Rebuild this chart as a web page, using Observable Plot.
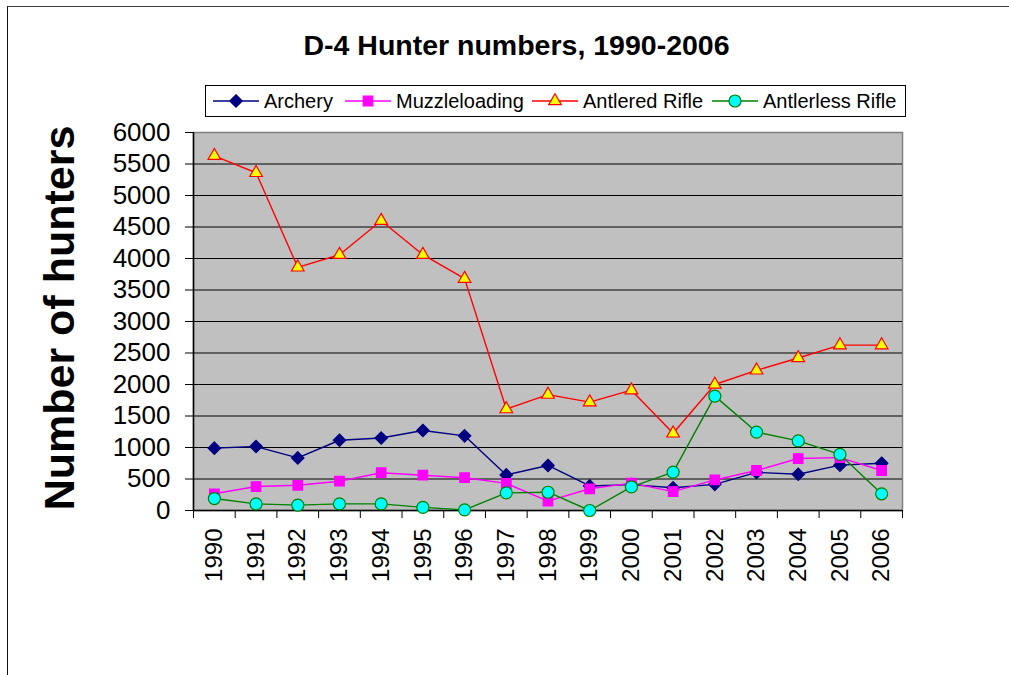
<!DOCTYPE html>
<html>
<head>
<meta charset="utf-8">
<script src="https://cdn.jsdelivr.net/npm/d3@7"></script>
<script src="https://cdn.jsdelivr.net/npm/@observablehq/plot@0.6"></script>
<style>
  html, body { margin: 0; padding: 0; background: #fff; }
  body { width: 1009px; height: 675px; overflow: hidden; font-family: "Liberation Sans", Arial, sans-serif; }
  #wrap { position: relative; width: 1009px; height: 675px; }
  #border { position: absolute; left: 7px; top: 6px; width: 1100px; height: 800px; border-left: 1.5px solid #111; border-top: 1.5px solid #444; }
  #title { position: absolute; left: 0; width: 1033px; top: 28px; text-align: center; font-weight: bold; font-size: 28.5px; line-height: 34px; color: #000; }
  #ylabel { position: absolute; left: 59px; top: 318px; transform: translate(-50%, -50%) rotate(-90deg); white-space: nowrap; font-weight: bold; font-size: 43px; line-height: 46px; color: #000; }
  #legend { position: absolute; left: 205px; top: 85px; width: 701px; height: 32px; border: 1px solid #000; box-sizing: border-box; background: #fff; }
  .item { position: absolute; top: 0; height: 30px; display: flex; align-items: center; font-size: 20px; color: #000; white-space: nowrap; }
  .item svg { margin-right: 5px; }
  #chart { position: absolute; left: 0; top: 0; }
</style>
</head>
<body>
<div id="wrap">
  <div id="border"></div>
  <div id="chart"></div>
  <div id="title">D-4 Hunter numbers, 1990-2006</div>
  <div id="ylabel">Number of hunters</div>
  <div id="legend"></div>
</div>
<script>
// ---- Data ----
const years = [1990, 1991, 1992, 1993, 1994, 1995, 1996, 1997, 1998, 1999, 2000, 2001, 2002, 2003, 2004, 2005, 2006];
const archery       = [990, 1015, 835, 1115, 1150, 1270, 1185, 565, 715, 390, 410, 360, 415, 605, 575, 720, 750];
const muzzleloading = [265, 380, 400, 465, 600, 560, 520, 430, 150, 345, 435, 300, 485, 635, 825, 840, 635];
const antleredRifle = [5630, 5360, 3860, 4060, 4600, 4060, 3680, 1610, 1840, 1720, 1910, 1225, 2000, 2225, 2420, 2625, 2625];
const antlerlessRifle = [190, 105, 85, 105, 105, 50, 10, 280, 290, 0, 375, 610, 1815, 1245, 1105, 890, 265];
const seriesNames = ["Archery", "Muzzleloading", "Antlered Rifle", "Antlerless Rifle"];
const yTicks = [0, 500, 1000, 1500, 2000, 2500, 3000, 3500, 4000, 4500, 5000, 5500, 6000];

// ---- Styles ----
const styles = [
  {line: "#000080", fill: "#000080", stroke: "#000080", symbol: "diamond2", r: 5.6, d3sym: d3.symbolDiamond2},
  {line: "#FF00FF", fill: "#FF00FF", stroke: "#FF00FF", symbol: "square", r: 5.4, d3sym: d3.symbolSquare},
  {line: "#FF0000", fill: "#FFFF00", stroke: "#FF0000", symbol: "triangle", r: 4.7, d3sym: d3.symbolTriangle},
  {line: "#008000", fill: "#00FFFF", stroke: "#008000", symbol: "circle", r: 6, d3sym: d3.symbolCircle}
];
const values = [archery, muzzleloading, antleredRifle, antlerlessRifle];

const rows = values.map((vals, i) => years.map((yr, j) => ({year: yr, value: vals[j], series: seriesNames[i]})));
const bounds = years.map(y => y - 0.5).concat([years[years.length - 1] + 0.5]);
const gridVals = yTicks.slice(1, -1);

const seriesMarks = rows.flatMap((data, i) => [
  Plot.line(data, {x: "year", y: "value", stroke: styles[i].line, strokeWidth: 1.4}),
  Plot.dot(data, {x: "year", y: "value", symbol: () => styles[i].symbol, r: styles[i].r, fill: styles[i].fill, stroke: styles[i].stroke, strokeWidth: 1.2})
]);

const chart = Plot.plot({
  width: 1009,
  height: 675,
  marginLeft: 193,
  marginRight: 107,
  marginTop: 132,
  marginBottom: 165,
  style: {fontFamily: '"Liberation Sans", Arial, sans-serif', color: "#000", background: "transparent", overflow: "visible"},
  x: {type: "linear", domain: [bounds[0], bounds[bounds.length - 1]]},
  y: {domain: [0, 6000]},
  symbol: {type: "identity"},
  marks: [
    Plot.frame({fill: "#C0C0C0", stroke: "#808080", strokeWidth: 1.5}),
    Plot.ruleY(gridVals, {stroke: "#000", strokeWidth: 1}),
    Plot.ruleX([bounds[0]], {stroke: "#000", strokeWidth: 1.5}),
    Plot.ruleY([0], {stroke: "#000", strokeWidth: 1.5}),
    Plot.axisY(yTicks, {anchor: "left", tickSize: 8, tickPadding: 15, fontSize: 26, tickFormat: d => String(d), label: null, stroke: "#000", fill: "#000"}),
    Plot.axisX(bounds, {anchor: "bottom", tickSize: 8, fill: "none", label: null, stroke: "#000"}),
    Plot.axisX(years, {anchor: "bottom", tickSize: 0, tickPadding: 18, tickRotate: -90, fontSize: 24, tickFormat: d => String(d), label: null, fill: "#000"}),
    ...seriesMarks
  ]
});
document.getElementById("chart").appendChild(chart);

// ---- Legend ----
const legendLefts = [7, 139, 326, 506];
const legend = document.getElementById("legend");
seriesNames.forEach((name, i) => {
  const st = styles[i];
  const item = document.createElement("div");
  item.className = "item";
  item.style.left = legendLefts[i] + "px";
  const sw = 46, sh = 20;
  const svg = d3.create("svg").attr("width", sw).attr("height", sh);
  svg.append("line").attr("x1", 0).attr("x2", sw).attr("y1", sh / 2).attr("y2", sh / 2)
    .attr("stroke", st.line).attr("stroke-width", 1.4);
  svg.append("path").attr("transform", `translate(${sw / 2},${sh / 2})`)
    .attr("d", d3.symbol(st.d3sym, Math.PI * st.r * st.r)())
    .attr("fill", st.fill).attr("stroke", st.stroke).attr("stroke-width", 1.2);
  item.appendChild(svg.node());
  const label = document.createElement("span");
  label.textContent = name;
  item.appendChild(label);
  legend.appendChild(item);
});
</script>
</body>
</html>
